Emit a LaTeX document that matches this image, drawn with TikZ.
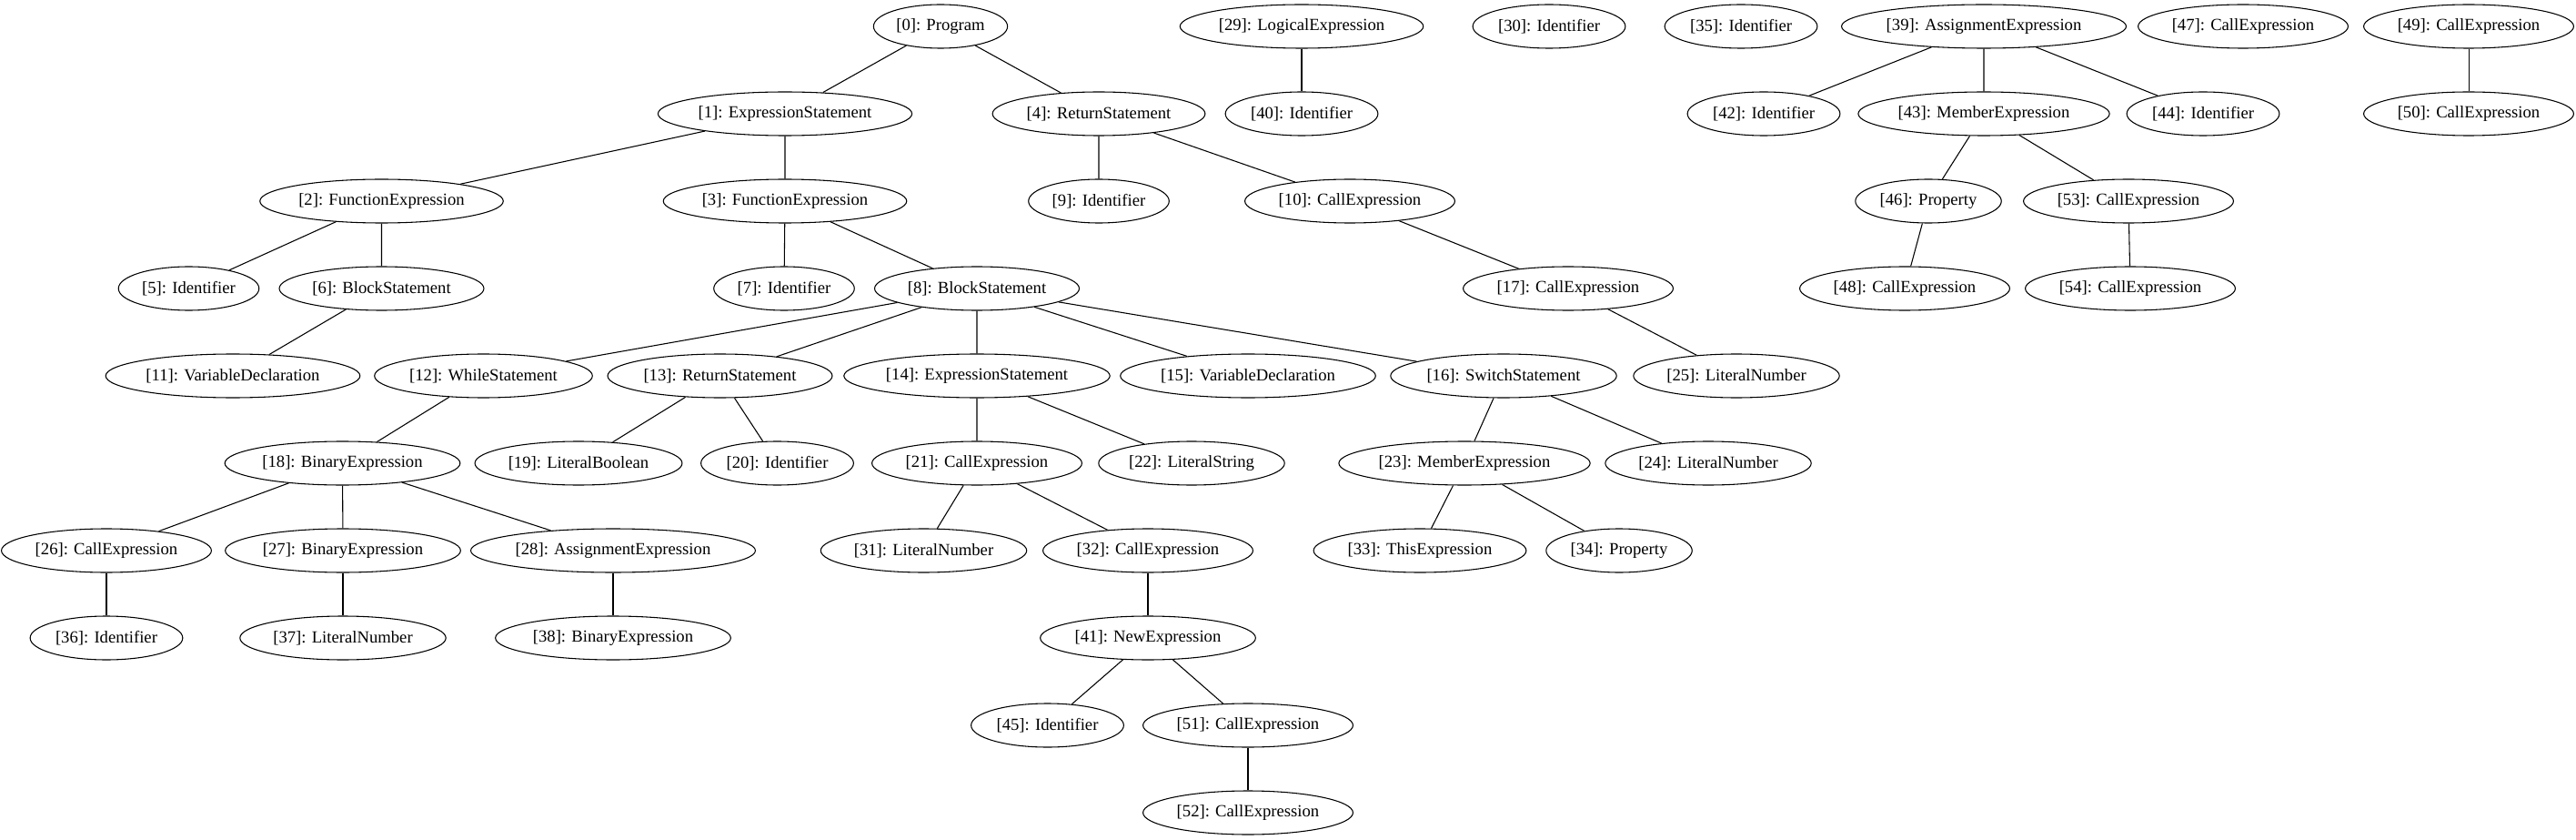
\documentclass[tikz,border=0pt]{standalone}
\usepackage{fontspec}
\setmainfont{Liberation Serif}
\usetikzlibrary{shapes.geometric}
\tikzset{
    astnode/.style={draw,ellipse,line width=0.8pt,inner xsep=2.5pt,inner ysep=0pt,
        minimum height=36pt,font=\fontsize{14pt}{16pt}\selectfont},
    astedge/.style={line width=0.8pt}
}
\begin{document}
\begin{tikzpicture}[x=0.75pt,y=-72pt]
                        \useasboundingbox (0,-0.302) rectangle (2832,9.3125);
                        \node[astnode] (n0) at (1034,0) {[0]: Program};
                        \node[astnode] (n29) at (1431,0) {[29]: LogicalExpression};
                        \node[astnode] (n30) at (1703,0) {[30]: Identifier};
                        \node[astnode] (n35) at (1914,0) {[35]: Identifier};
                        \node[astnode] (n39) at (2181,0) {[39]: AssignmentExpression};
                        \node[astnode] (n47) at (2466,0) {[47]: CallExpression};
                        \node[astnode] (n49) at (2714,0) {[49]: CallExpression};
                        \node[astnode] (n1) at (863,1) {[1]: ExpressionStatement};
                        \node[astnode] (n4) at (1208,1) {[4]: ReturnStatement};
                        \node[astnode] (n40) at (1431,1) {[40]: Identifier};
                        \node[astnode] (n42) at (1939,1) {[42]: Identifier};
                        \node[astnode] (n43) at (2181,1) {[43]: MemberExpression};
                        \node[astnode] (n44) at (2422,1) {[44]: Identifier};
                        \node[astnode] (n50) at (2714,1) {[50]: CallExpression};
                        \node[astnode] (n2) at (419.5,2) {[2]: FunctionExpression};
                        \node[astnode] (n3) at (863,2) {[3]: FunctionExpression};
                        \node[astnode] (n9) at (1208,2) {[9]: Identifier};
                        \node[astnode] (n10) at (1484,2) {[10]: CallExpression};
                        \node[astnode] (n46) at (2120,2) {[46]: Property};
                        \node[astnode] (n53) at (2340,2) {[53]: CallExpression};
                        \node[astnode] (n5) at (207.5,3) {[5]: Identifier};
                        \node[astnode] (n6) at (419.5,3) {[6]: BlockStatement};
                        \node[astnode] (n7) at (862,3) {[7]: Identifier};
                        \node[astnode] (n8) at (1074,3) {[8]: BlockStatement};
                        \node[astnode] (n17) at (1724,3) {[17]: CallExpression};
                        \node[astnode] (n48) at (2094,3) {[48]: CallExpression};
                        \node[astnode] (n54) at (2342,3) {[54]: CallExpression};
                        \node[astnode] (n11) at (256,4) {[11]: VariableDeclaration};
                        \node[astnode] (n12) at (531.5,4) {[12]: WhileStatement};
                        \node[astnode] (n13) at (791.5,4) {[13]: ReturnStatement};
                        \node[astnode] (n14) at (1074,4) {[14]: ExpressionStatement};
                        \node[astnode] (n15) at (1372,4) {[15]: VariableDeclaration};
                        \node[astnode] (n16) at (1653,4) {[16]: SwitchStatement};
                        \node[astnode] (n25) at (1909,4) {[25]: LiteralNumber};
                        \node[astnode] (n18) at (376.5,5) {[18]: BinaryExpression};
                        \node[astnode] (n19) at (636,5) {[19]: LiteralBoolean};
                        \node[astnode] (n20) at (854.5,5) {[20]: Identifier};
                        \node[astnode] (n21) at (1074,5) {[21]: CallExpression};
                        \node[astnode] (n22) at (1310,5) {[22]: LiteralString};
                        \node[astnode] (n23) at (1610,5) {[23]: MemberExpression};
                        \node[astnode] (n24) at (1878,5) {[24]: LiteralNumber};
                        \node[astnode] (n26) at (117,6) {[26]: CallExpression};
                        \node[astnode] (n27) at (377,6) {[27]: BinaryExpression};
                        \node[astnode] (n28) at (674,6) {[28]: AssignmentExpression};
                        \node[astnode] (n31) at (1015.5,6) {[31]: LiteralNumber};
                        \node[astnode] (n32) at (1262,6) {[32]: CallExpression};
                        \node[astnode] (n33) at (1561,6) {[33]: ThisExpression};
                        \node[astnode] (n34) at (1780,6) {[34]: Property};
                        \node[astnode] (n36) at (117,7) {[36]: Identifier};
                        \node[astnode] (n37) at (377,7) {[37]: LiteralNumber};
                        \node[astnode] (n38) at (674,7) {[38]: BinaryExpression};
                        \node[astnode] (n41) at (1262,7) {[41]: NewExpression};
                        \node[astnode] (n45) at (1151.5,8) {[45]: Identifier};
                        \node[astnode] (n51) at (1372,8) {[51]: CallExpression};
                        \node[astnode] (n52) at (1372,9) {[52]: CallExpression};
                        \begin{scope}[astedge]
                            \draw (n0) -- (n1) (n0) -- (n4);
                            \draw (n1) -- (n2) (n1) -- (n3);
                            \draw (n2) -- (n5) (n2) -- (n6);
                            \draw (n3) -- (n7) (n3) -- (n8);
                            \draw (n4) -- (n9) (n4) -- (n10);
                            \draw (n6) -- (n11);
                            \draw (n8) -- (n12) (n8) -- (n13) (n8) -- (n14) (n8) -- (n15) (n8) -- (n16);
                            \draw (n10) -- (n17);
                            \draw (n12) -- (n18);
                            \draw (n13) -- (n19) (n13) -- (n20);
                            \draw (n14) -- (n21) (n14) -- (n22);
                            \draw (n16) -- (n23) (n16) -- (n24);
                            \draw (n17) -- (n25);
                            \draw (n18) -- (n26) (n18) -- (n27) (n18) -- (n28);
                            \draw (n21) -- (n31) (n21) -- (n32);
                            \draw (n23) -- (n33) (n23) -- (n34);
                            \draw (n26) -- (n36);
                            \draw (n27) -- (n37);
                            \draw (n28) -- (n38);
                            \draw (n32) -- (n41);
                            \draw (n41) -- (n45) (n41) -- (n51);
                            \draw (n51) -- (n52);
                            \draw (n29) -- (n40);
                            \draw (n39) -- (n42) (n39) -- (n43) (n39) -- (n44);
                            \draw (n43) -- (n46) (n43) -- (n53);
                            \draw (n46) -- (n48);
                            \draw (n53) -- (n54);
                            \draw (n49) -- (n50);
                        \end{scope}
\end{tikzpicture}
\end{document}
